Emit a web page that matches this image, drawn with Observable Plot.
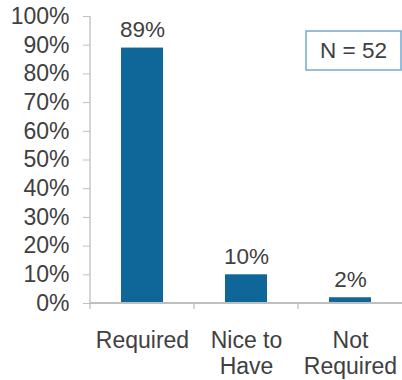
<!DOCTYPE html>
<html>
<head>
<meta charset="utf-8">
<script src="https://cdn.jsdelivr.net/npm/d3@7"></script>
<script src="https://cdn.jsdelivr.net/npm/@observablehq/plot@0.6"></script>
<style>
  html, body { margin: 0; padding: 0; background: #fff; }
  #chart svg { display: block; overflow: visible; }
</style>
</head>
<body>
<div id="chart"></div>
<script>
const categories = ["Required", "Nice to Have", "Not Required"];
const categoryLabels = ["Required", "Nice to\nHave", "Not\nRequired"];
const values = [0.89, 0.10, 0.02];
const valueLabels = ["89%", "10%", "2%"];
const yTicks = [0, 0.1, 0.2, 0.3, 0.4, 0.5, 0.6, 0.7, 0.8, 0.9, 1.0];
const annotation = "N = 52";

const data = categories.map((c, i) => ({category: c, value: values[i], label: valueLabels[i]}));
const labelOf = new Map(categories.map((c, i) => [c, categoryLabels[i]]));

const W = 402, H = 380;
const FONT = "'Liberation Sans', Arial, sans-serif";
const AXIS_GRAY = "#bfbfbf";
const TEXT_GRAY = "#404040";
const BAR = "#0f6699";

function decorations(index, scales, values, dims) {
  const svg = d3.create("svg:g");
  const x = scales.x, y = scales.y;
  const left = dims.marginLeft, right = dims.width - dims.marginRight;
  const y0 = y(0), y1 = y(1);
  // y-axis line
  svg.append("line").attr("x1", left).attr("x2", left).attr("y1", y1).attr("y2", y0 + 6)
    .attr("stroke", AXIS_GRAY).attr("stroke-width", 1.3);
  // x-axis line
  svg.append("line").attr("x1", left).attr("x2", right).attr("y1", y0).attr("y2", y0)
    .attr("stroke", AXIS_GRAY).attr("stroke-width", 2);
  // category boundary ticks
  const step = x.step ? x.step() : (right - left) / categories.length;
  const bw = x.bandwidth ? x.bandwidth() : step * 0.4;
  categories.slice(1).forEach(c => {
    const bx = x(c) - (step - bw) / 2;
    svg.append("line").attr("x1", bx).attr("x2", bx).attr("y1", y0).attr("y2", y0 + 6)
      .attr("stroke", AXIS_GRAY).attr("stroke-width", 1.3);
  });
  // N annotation box
  const bwBox = 95, bhBox = 39;
  const bxBox = right - bwBox - 1, byBox = dims.marginTop + 15;
  svg.append("rect").attr("x", bxBox).attr("y", byBox).attr("width", bwBox).attr("height", bhBox)
    .attr("fill", "white").attr("stroke", "#74a9cf").attr("stroke-width", 1.5);
  svg.append("text").attr("x", bxBox + bwBox / 2).attr("y", byBox + bhBox / 2)
    .attr("text-anchor", "middle").attr("dy", "0.35em")
    .attr("font-size", 22.5).attr("font-family", FONT).attr("fill", TEXT_GRAY)
    .text(annotation);
  return svg.node();
}

const plot = Plot.plot({
  width: W,
  height: H,
  marginLeft: 90,
  marginRight: 0,
  marginTop: 16,
  marginBottom: 77,
  style: {fontFamily: FONT, background: "white", overflow: "visible"},
  x: {domain: categories, paddingInner: 0.6, paddingOuter: 0.3},
  y: {domain: [0, 1]},
  marks: [
    Plot.axisY({
      ticks: yTicks,
      tickFormat: d3.format(".0%"),
      tickSize: 7,
      tickPadding: 14,
      stroke: AXIS_GRAY,
      fill: TEXT_GRAY,
      fontSize: 23,
      label: null
    }),
    Plot.axisX({
      tickSize: 0,
      tickPadding: 26,
      tickFormat: d => labelOf.get(d),
      lineHeight: 1.14,
      fill: TEXT_GRAY,
      fontSize: 23,
      label: null
    }),
    Plot.barY(data, {x: "category", y: "value", fill: BAR}),
    Plot.text(data, {
      x: "category", y: "value", text: "label",
      lineAnchor: "bottom", dy: -11,
      fontSize: 22.5, fill: TEXT_GRAY
    }),
    decorations
  ]
});

document.getElementById("chart").appendChild(plot);
</script>
</body>
</html>
